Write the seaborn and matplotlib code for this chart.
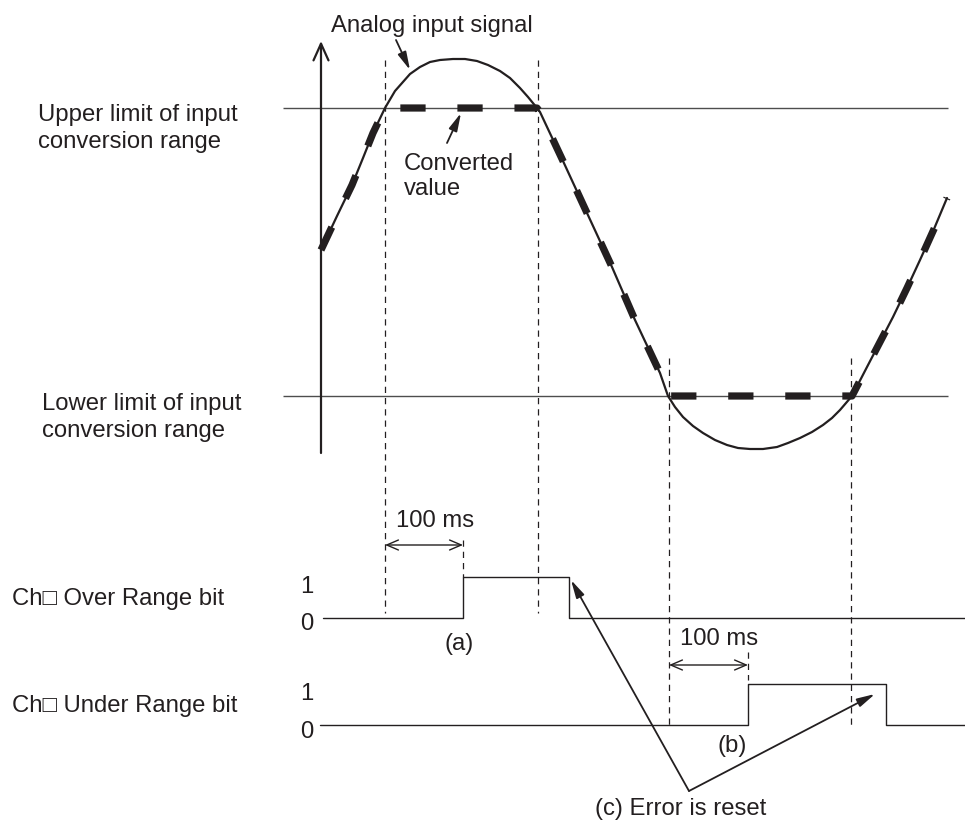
import numpy as np
import matplotlib
matplotlib.use("Agg")
import matplotlib.pyplot as plt
import seaborn as sns

# analog input signal (x = time, y = level, y grows downward)
signal_x = [321, 337, 352, 363, 373, 385, 395, 410, 420, 430, 440, 453, 465, 477, 488,
            500, 510, 520, 528, 537, 540, 563, 587, 612, 635, 660, 668, 675, 683, 693,
            703, 715, 727, 738, 750, 763, 777, 788, 800, 812, 823, 832, 840, 846, 852,
            867, 880, 893, 907, 920, 934, 947]
signal_y = [250, 216, 185, 158, 133, 108, 91, 74, 67, 62, 60, 59, 59, 61, 65,
            71, 78, 88, 97, 108, 112, 161, 213, 267, 320, 373, 396, 407, 417, 426,
            433, 440, 445, 448, 449, 449, 447, 443, 438, 432, 425, 418, 410, 403, 396,
            367, 342, 317, 288, 260, 229, 198]

upper_limit = 108
lower_limit = 396

# digital bits: switching times and logic levels
over_x = [323, 463, 569, 965]
over_lvl = [0, 1, 0, 0]
under_x = [320, 748, 886, 965]
under_lvl = [0, 1, 0, 0]

# event times
over_start, over_end = 385, 538
under_start, under_end = 669, 851
over_set, under_set = 463, 748

INK = "#231f20"

sns.set_theme(style="white")
plt.rcParams["font.family"] = ["Liberation Sans", "DejaVu Sans"]

fig = plt.figure(figsize=(9.65, 8.21), dpi=100)
ax = fig.add_axes([0, 0, 1, 1])
ax.set_xlim(0, 965)
ax.set_ylim(821, 0)
ax.axis("off")

fs = 17.2

# limit lines and vertical axis
ax.hlines([upper_limit, lower_limit], 283, 948, color="#4d4d4d", lw=1.0)
ax.annotate("", xy=(321, 41), xytext=(321, 453),
            arrowprops=dict(arrowstyle="->,head_length=1.0,head_width=0.45",
                            color=INK, lw=1.6, shrinkA=0, shrinkB=0))

# timing guide lines
ax.vlines([over_start, over_end], 60, 613, color=INK, lw=0.9, linestyles=(0, (5, 4)))
ax.vlines([under_start, under_end], 358, 727, color=INK, lw=0.9, linestyles=(0, (5, 4)))
ax.vlines([over_set], 540, 577, color=INK, lw=0.9, linestyles=(0, (5, 4)))
ax.vlines([under_set], 652, 680, color=INK, lw=0.9, linestyles=(0, (5, 4)))

# analog signal and converted value
sns.lineplot(x=signal_x, y=signal_y, sort=False, estimator=None, color=INK, lw=1.6, ax=ax)
converted = np.clip(signal_y, upper_limit, lower_limit)
sns.lineplot(x=signal_x, y=converted, sort=False, estimator=None, color=INK, lw=5.2,
             linestyle=(0, (3.5, 4.4)), dash_capstyle="butt", ax=ax)

# bit signals
over_y = [618 - 41 * v for v in over_lvl]
under_y = [725 - 41 * v for v in under_lvl]
sns.lineplot(x=over_x, y=over_y, sort=False, estimator=None, color=INK, lw=1.0,
             drawstyle="steps-post", ax=ax)
sns.lineplot(x=under_x, y=under_y, sort=False, estimator=None, color=INK, lw=1.0,
             drawstyle="steps-post", ax=ax)

# 100 ms spans
for x0, x1, y, ty in [(over_start, over_set, 545, 527), (under_start, under_set, 665, 645)]:
    ax.annotate("", xy=(x1, y), xytext=(x0, y),
                arrowprops=dict(arrowstyle="<->,head_length=0.7,head_width=0.3",
                                color=INK, lw=1.0, shrinkA=0, shrinkB=0))
    ax.text((x0 + x1) / 2 + 11, ty, "100 ms", fontsize=fs, color=INK, ha="center", va="baseline")

# pointers
head = dict(arrowstyle="-|>,head_length=0.9,head_width=0.22", color=INK, lw=1.3,
            shrinkA=0, shrinkB=0)
ax.annotate("", xy=(410, 70), xytext=(396, 40), arrowprops=head)
ax.annotate("", xy=(461, 113), xytext=(447, 143), arrowprops=head)
ax.annotate("", xy=(571, 580), xytext=(689, 791), arrowprops=head)
ax.annotate("", xy=(875, 694), xytext=(689, 791), arrowprops=head)

# labels
ax.text(331, 32, "Analog input signal", fontsize=fs, color=INK)
ax.text(404, 170, "Converted", fontsize=fs, color=INK)
ax.text(404, 195, "value", fontsize=fs, color=INK)
ax.text(38, 121, "Upper limit of input", fontsize=fs, color=INK)
ax.text(38, 148, "conversion range", fontsize=fs, color=INK)
ax.text(42, 410, "Lower limit of input", fontsize=fs, color=INK)
ax.text(42, 437, "conversion range", fontsize=fs, color=INK)

ax.text(12, 605, "Ch\u25a1 Over Range bit", fontsize=fs, color=INK)
ax.text(12, 712, "Ch\u25a1 Under Range bit", fontsize=fs, color=INK)
for y1, y0 in [(593, 630), (700, 738)]:
    ax.text(307, y1, "1", fontsize=fs, color=INK, ha="center")
    ax.text(307, y0, "0", fontsize=fs, color=INK, ha="center")

ax.text(459, 644, "(a)", fontsize=fs, color=INK, ha="center", va="center")
ax.text(732, 746, "(b)", fontsize=fs, color=INK, ha="center", va="center")
ax.text(595, 815, "(c) Error is reset", fontsize=fs, color=INK)

fig.savefig("out.png", dpi=100)
